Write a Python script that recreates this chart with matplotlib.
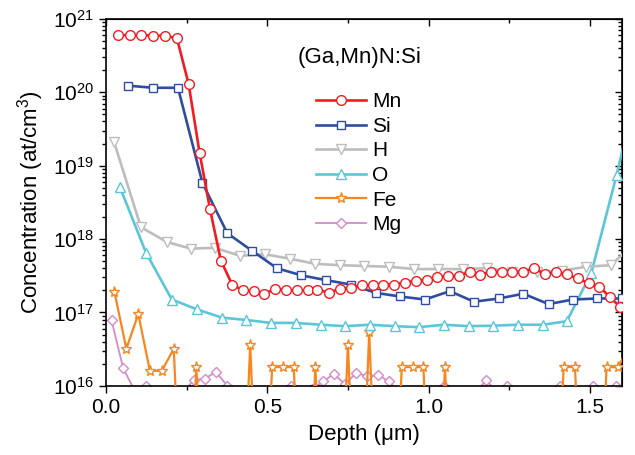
import numpy as np
import matplotlib
matplotlib.use("Agg")
import matplotlib.pyplot as plt
from matplotlib.ticker import MultipleLocator, LogLocator, NullFormatter

plt.rcParams['font.family'] = ['Liberation Sans', 'DejaVu Sans']
plt.rcParams['mathtext.default'] = 'regular'

# depth (um) and concentration (at/cm3)
mn_x = [0.036, 0.073, 0.108, 0.146, 0.183, 0.220, 0.256, 0.290, 0.322, 0.356,
        0.391, 0.424, 0.458, 0.491, 0.525, 0.559, 0.593, 0.625, 0.655, 0.691,
        0.725, 0.759, 0.793, 0.827, 0.860, 0.893, 0.926, 0.961, 0.994, 1.027,
        1.061, 1.095, 1.128, 1.161, 1.194, 1.227, 1.260, 1.293, 1.328, 1.362,
        1.396, 1.429, 1.462, 1.497, 1.530, 1.563, 1.594]
mn_y = [6.0e20, 6.0e20, 6.0e20, 5.9e20, 5.9e20, 5.4e20, 1.3e20, 1.5e19, 2.6e18, 5.1e17,
        2.4e17, 2.0e17, 1.95e17, 1.8e17, 2.1e17, 2.0e17, 2.0e17, 2.0e17, 2.05e17, 1.85e17,
        2.1e17, 2.15e17, 2.35e17, 2.35e17, 2.4e17, 2.4e17, 2.55e17, 2.7e17, 2.8e17, 3.0e17,
        3.15e17, 3.15e17, 3.6e17, 3.25e17, 3.6e17, 3.55e17, 3.55e17, 3.6e17, 4.0e17, 3.3e17,
        3.55e17, 3.3e17, 2.9e17, 2.5e17, 2.25e17, 1.6e17, 1.2e17]

si_x = [0.067, 0.146, 0.223, 0.299, 0.376, 0.453, 0.530, 0.606, 0.683, 0.759,
        0.836, 0.911, 0.989, 1.066, 1.141, 1.219, 1.294, 1.372, 1.448, 1.523, 1.600]
si_y = [1.23e20, 1.15e20, 1.15e20, 5.8e18, 1.2e18, 6.9e17, 4.0e17, 3.2e17, 2.75e17, 2.4e17,
        1.85e17, 1.65e17, 1.5e17, 1.95e17, 1.4e17, 1.55e17, 1.8e17, 1.3e17, 1.5e17, 1.55e17, 1.55e17]

h_x = [0.025, 0.108, 0.189, 0.263, 0.337, 0.416, 0.493, 0.570, 0.648, 0.725,
       0.800, 0.877, 0.954, 1.030, 1.107, 1.182, 1.260, 1.337, 1.414, 1.489, 1.566, 1.643]
h_y = [2.1e19, 1.45e18, 9.1e17, 7.4e17, 7.6e17, 5.9e17, 6.2e17, 5.4e17, 4.6e17, 4.4e17,
       4.3e17, 4.2e17, 3.9e17, 3.9e17, 3.9e17, 4.0e17, 3.6e17, 3.55e17, 3.7e17, 4.2e17, 4.4e17, 9.3e17]

o_x = [0.043, 0.124, 0.204, 0.282, 0.359, 0.434, 0.512, 0.588, 0.666, 0.741,
       0.818, 0.895, 0.970, 1.047, 1.125, 1.200, 1.278, 1.355, 1.429, 1.505, 1.583, 1.660]
o_y = [5.1e18, 6.5e17, 1.5e17, 1.1e17, 8.5e16, 7.9e16, 7.2e16, 7.2e16, 6.8e16, 6.5e16,
       6.8e16, 6.5e16, 6.3e16, 6.8e16, 6.5e16, 6.6e16, 6.8e16, 6.8e16, 7.6e16, 3.5e17, 7.4e18, 2.0e20]

# Fe and Mg sit at the detection limit, many points fall below 1e16
fe_x = [0.026, 0.063, 0.100, 0.136, 0.173, 0.210, 0.245, 0.280, 0.314, 0.413,
        0.447, 0.481, 0.515, 0.549, 0.582, 0.615, 0.649, 0.683, 0.716, 0.750,
        0.783, 0.816, 0.850, 0.883, 0.917, 0.951, 0.984, 1.017, 1.051, 1.085,
        1.385, 1.419, 1.454, 1.487, 1.520, 1.552, 1.588, 1.622]
fe_y = [1.9e17, 3.2e16, 9.5e16, 1.6e16, 1.6e16, 3.2e16, 1e13, 1.8e16, 1e13, 1e13,
        3.6e16, 1e13, 1.8e16, 1.8e16, 1.8e16, 1e13, 1.8e16, 1e13, 1e13, 3.6e16,
        1e13, 5.4e16, 1e13, 1e13, 1.8e16, 1.8e16, 1.8e16, 1e13, 1.8e16, 1e13,
        1e13, 1.8e16, 1.8e16, 1e13, 1e13, 1.8e16, 1.8e16, 3.5e16]

mg_x = [0.017, 0.053, 0.089, 0.125, 0.160, 0.238, 0.272, 0.306, 0.341, 0.376,
        0.410, 0.538, 0.572, 0.606, 0.640, 0.673, 0.707, 0.741, 0.776, 0.810,
        0.844, 0.877, 0.911, 1.013, 1.047, 1.080, 1.145, 1.179, 1.213, 1.244,
        1.278, 1.373, 1.407, 1.440, 1.510, 1.545, 1.580]
mg_y = [7.8e16, 1.75e16, 8.5e15, 1.0e16, 8e15, 8e15, 1.2e16, 1.25e16, 1.55e16, 1.0e16,
        8e15, 8e15, 1.0e16, 8e15, 9e15, 1.15e16, 1.45e16, 1.05e16, 1.5e16, 1.35e16,
        1.4e16, 1.15e16, 8e15, 8e15, 1.0e16, 8e15, 8e15, 1.2e16, 8e15, 9.8e15,
        8e15, 8e15, 1.0e16, 8e15, 9.8e15, 8e15, 9.8e15]

fig = plt.figure(figsize=(6.35, 4.55), dpi=100)
ax = fig.add_axes([0.167, 0.152, 0.8126, 0.8066])

# drawn back to front, Mn on top
ax.plot(mg_x, mg_y, color='#D48BCB', lw=1.3, marker='D', ms=5, mfc='white', mew=1, label='Mg', zorder=2)
ax.plot(fe_x, fe_y, color='#F7861F', lw=1.6, marker='*', ms=8, mfc='white', mew=1, label='Fe', zorder=3)
ax.plot(o_x, o_y, color='#5CC6D9', lw=1.9, marker='^', ms=7, mfc='white', mew=1, label='O', zorder=4)
ax.plot(h_x, h_y, color='#BDBDBD', lw=1.9, marker='v', ms=7, mfc='white', mew=1, label='H', zorder=5)
ax.plot(si_x, si_y, color='#2E4DA0', lw=1.9, marker='s', ms=6, mfc='white', mew=1, label='Si', zorder=6)
ax.plot(mn_x, mn_y, color='#EE1D23', lw=1.9, marker='o', ms=7, mfc='white', mew=1, label='Mn', zorder=7)

ax.set_yscale('log')
ax.set_xlim(0, 1.6)
ax.set_ylim(1e16, 1e21)
ax.xaxis.set_major_locator(MultipleLocator(0.5))
ax.xaxis.set_minor_locator(MultipleLocator(0.25))
ax.yaxis.set_major_locator(LogLocator(base=10, numticks=10))
ax.yaxis.set_minor_locator(LogLocator(base=10, subs=np.arange(2, 10), numticks=10))
ax.yaxis.set_minor_formatter(NullFormatter())
ax.tick_params(which='both', direction='out', labelsize=15, width=1)
ax.tick_params(which='major', length=5)
ax.tick_params(which='minor', length=3)
ax.xaxis.set_major_formatter(plt.FuncFormatter(lambda v, p: f'{v:.1f}'))
for s in ax.spines.values():
    s.set_linewidth(1.2)

# mirrored ticks on top and right point inward
secx = ax.secondary_xaxis('top')
secx.xaxis.set_major_locator(MultipleLocator(0.5))
secx.xaxis.set_minor_locator(MultipleLocator(0.25))
secx.tick_params(which='both', direction='in', labeltop=False, width=1)
secx.tick_params(which='major', length=5)
secx.tick_params(which='minor', length=3)
secy = ax.secondary_yaxis('right')
secy.tick_params(which='both', direction='in', labelright=False, width=1)
secy.tick_params(which='major', length=5)
secy.tick_params(which='minor', length=3)

ax.set_xlabel('Depth (μm)', fontsize=16, labelpad=5)
ax.set_ylabel('Concentration (at/cm$^3$)', fontsize=16, labelpad=5)

ax.text(0.492, 0.895, '(Ga,Mn)N:Si', transform=ax.transAxes, ha='center', va='center', fontsize=16)

handles, labels = ax.get_legend_handles_labels()
ax.legend(handles[::-1], labels[::-1], loc='upper left', bbox_to_anchor=(0.407, 0.80),
          frameon=False, fontsize=15, handlelength=2.4, handletextpad=0.3,
          labelspacing=0.27, borderpad=0, borderaxespad=0)

fig.savefig('out.png', dpi=100)
